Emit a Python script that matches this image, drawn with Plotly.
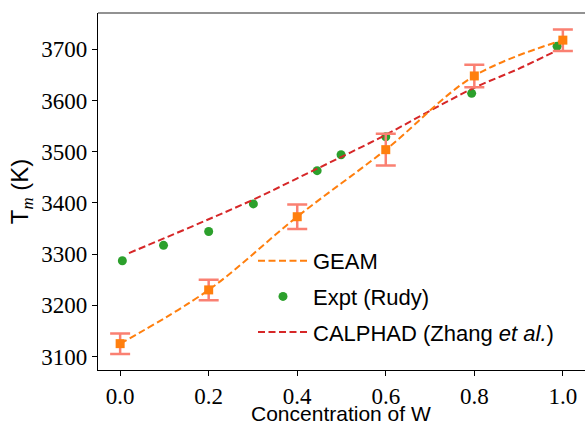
import plotly.graph_objects as go

# GEAM (squares with error bars)
geam_x = [0.0, 0.2, 0.4, 0.6, 0.8, 1.0]
geam_y = [3125, 3230, 3373, 3504, 3648, 3718]
geam_err = [20, 20, 24, 31, 22, 21]

# Expt (Rudy)
expt_x = [0.005, 0.098, 0.2, 0.301, 0.445, 0.499, 0.6, 0.794, 0.987]
expt_y = [3287, 3317, 3344, 3398, 3463, 3494, 3529, 3614, 3706]

# CALPHAD (Zhang et al.)
calphad_x = [0.02, 0.1, 0.2, 0.3, 0.4, 0.5, 0.6, 0.7, 0.8, 0.9, 0.98]
calphad_y = [3302, 3331, 3368, 3406, 3448, 3490, 3533, 3580, 3625, 3662, 3695]

x_ticks = [0.0, 0.2, 0.4, 0.6, 0.8, 1.0]
x_ticklabels = ["0.0", "0.2", "0.4", "0.6", "0.8", "1.0"]
y_ticks = [3100, 3200, 3300, 3400, 3500, 3600, 3700]

ORANGE = "#ff7f0e"
GREEN = "#2ca02c"
RED = "#d62728"
SALMON = "#fa8072"
SANS = "Liberation Sans"
SERIF = "Liberation Serif"

fig = go.Figure()

fig.add_trace(go.Scatter(
    x=expt_x, y=expt_y, mode="markers", name="Expt (Rudy)",
    marker=dict(color=GREEN, size=9), legendrank=2, legendgroup="b"))

fig.add_trace(go.Scatter(
    x=calphad_x, y=calphad_y, mode="lines", name="CALPHAD (Zhang <i>et al.</i>)",
    line=dict(color=RED, width=2, dash="7px,3.5px", shape="spline"),
    legendrank=3, legendgroup="c"))

fig.add_trace(go.Scatter(
    x=geam_x, y=geam_y, mode="lines", name="GEAM",
    line=dict(color=ORANGE, width=2, dash="7px,3.5px", shape="spline"),
    legendrank=1, legendgroup="a"))

fig.add_trace(go.Scatter(
    x=geam_x, y=geam_y, mode="markers", showlegend=False,
    marker=dict(color=ORANGE, size=9, symbol="square"),
    error_y=dict(type="data", array=geam_err, color=SALMON, thickness=2.5, width=10)))

fig.add_shape(type="line", xref="paper", yref="paper", x0=0, x1=1, y0=1, y1=1,
              line=dict(color="#6e6e6e", width=1.5))

# x-axis title as an annotation (placed below the tick labels)
fig.add_annotation(text="Concentration of W", xref="paper", yref="paper",
                   x=(341 - 98) / 487, y=(370 - 413) / 357, xanchor="center", yanchor="middle",
                   showarrow=False, font=dict(family=SANS, size=21, color="black"))

fig.update_layout(
    width=585, height=426,
    margin=dict(l=98, r=0, t=13, b=56),
    paper_bgcolor="white", plot_bgcolor="white",
    showlegend=True,
    legend=dict(x=(253 - 98) / 487, y=1 - (240 - 13) / 357, xanchor="left", yanchor="top",
                bgcolor="rgba(0,0,0,0)", font=dict(family=SANS, size=22, color="black"),
                traceorder="grouped", tracegroupgap=4, itemwidth=50),
    xaxis=dict(range=[-0.05, 1.05], tickvals=x_ticks, ticktext=x_ticklabels, automargin=False,
               showgrid=False, zeroline=False, showline=True, linecolor="black", linewidth=1.3,
               ticks="outside", ticklen=5, tickwidth=1.2, tickcolor="black",
               tickfont=dict(family=SERIF, size=23, color="black")),
    yaxis=dict(range=[3073.5, 3771], tickvals=y_ticks, automargin=False,
               showgrid=False, zeroline=False, showline=True, linecolor="black", linewidth=1.3,
               ticks="outside", ticklen=5, tickwidth=1.2, tickcolor="black",
               tickfont=dict(family=SERIF, size=23, color="black"),
               title=dict(text="T<sub><span style=\"font-family:Liberation Serif\"><i>m</i></span></sub> (K)",
                          font=dict(family=SANS, size=24, color="black"), standoff=5)),
)

fig.write_html("out.html")
